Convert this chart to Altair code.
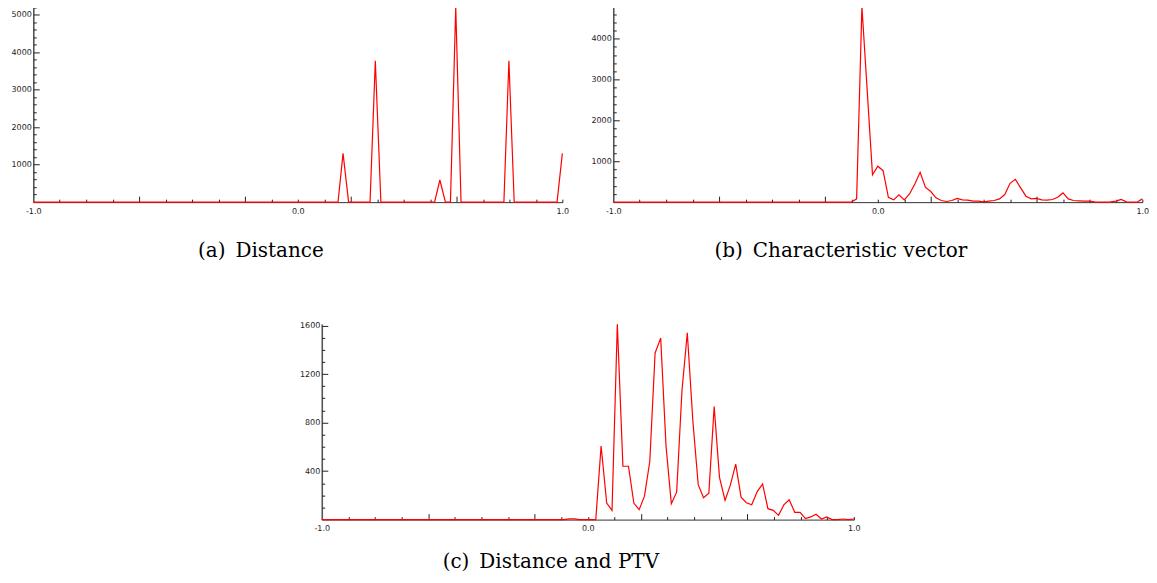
import altair as alt
import pandas as pd

# ---------------- data ----------------
# (a) Distance
X_A = [-1.0, 0.152, 0.171, 0.192, 0.273, 0.293, 0.314, 0.517, 0.537, 0.558,
       0.577, 0.597, 0.617, 0.779, 0.798, 0.818, 0.980, 1.0]
Y_A = [0, 0, 1300, 0, 0, 3770, 0, 0, 590, 0,
       0, 5200, 0, 0, 3770, 0, 0, 1300]

# (b) Characteristic vector
X_B = [-1.0, -0.10, -0.08, -0.06, -0.02, 0.0, 0.02, 0.04, 0.06, 0.08, 0.10,
       0.12, 0.14, 0.16, 0.18, 0.20, 0.22, 0.24, 0.26, 0.28, 0.30,
       0.32, 0.34, 0.36, 0.38, 0.40, 0.42, 0.44, 0.46, 0.48, 0.50,
       0.52, 0.54, 0.56, 0.58, 0.60, 0.62, 0.64, 0.66, 0.68, 0.70,
       0.72, 0.74, 0.76, 0.78, 0.80, 0.82, 0.84, 0.86, 0.88, 0.90,
       0.92, 0.94, 0.96, 0.98, 1.0]
Y_B = [0, 0, 80, 4780, 670, 880, 770, 120, 57, 178, 57,
       200, 445, 730, 365, 260, 105, 40, 16, 40, 90,
       57, 50, 24, 24, 8, 24, 40, 80, 186, 461,
       558, 348, 146, 80, 90, 57, 50, 65, 120, 226,
       80, 40, 32, 24, 24, 8, 0, 0, 8, 24,
       65, 8, 0, 0, 80]

# (c) Distance and PTV
X_C = [-1.0, -0.09, -0.07, -0.05, -0.03, 0.030, 0.050, 0.071, 0.091, 0.111,
       0.132, 0.153, 0.173, 0.193, 0.213, 0.233, 0.253, 0.274, 0.294, 0.314,
       0.334, 0.354, 0.374, 0.395, 0.415, 0.435, 0.455, 0.475, 0.495, 0.516,
       0.536, 0.556, 0.576, 0.596, 0.616, 0.637, 0.657, 0.677, 0.697, 0.717,
       0.737, 0.757, 0.778, 0.798, 0.818, 0.838, 0.858, 0.878, 0.898, 0.918,
       0.939, 0.959, 0.979, 1.0]
Y_C = [0, 0, 6, 6, 0, 0, 607, 136, 76, 1610,
       440, 440, 136, 82, 193, 479, 1374, 1496, 607, 131,
       226, 1064, 1540, 811, 288, 180, 218, 933, 348, 158,
       286, 457, 185, 139, 122, 231, 294, 90, 76, 35,
       122, 163, 60, 60, 8, 22, 44, 5, 22, 0,
       0, 5, 0, 5]

# axis ticks / labels
X_LABEL_VALUES = [-1.0, 0.0, 1.0]
X_LABEL_TEXT = ["-1.0", "0.0", "1.0"]
X_TICKS = [-0.9, -0.8, -0.7, -0.6, -0.5, -0.4, -0.3, -0.2, -0.1, 0.0,
           0.1, 0.2, 0.3, 0.4, 0.5, 0.6, 0.7, 0.8, 0.9, 1.0]
X_MAJOR = [-0.6, -0.2, 0.2, 0.6]

Y_LABELS_A = [1000, 2000, 3000, 4000, 5000]
Y_LABELS_B = [1000, 2000, 3000, 4000]
Y_LABELS_C = [400, 800, 1200, 1600]

CAPTIONS = ["(a)\u2002Distance", "(b)\u2002Characteristic vector",
            "(c)\u2002Distance and PTV"]

LABEL_FONT = "DejaVu Sans"
CAPTION_FONT = "DejaVu Serif"


def x_label_expr():
    parts = []
    for v, t in zip(X_LABEL_VALUES, X_LABEL_TEXT):
        parts.append(f"abs(datum.value - ({v})) < 0.01 ? '{t}' : ")
    return "".join(parts) + "''"


def panel(xs, ys, ymax, ylabels, ystep, ymajor, width, height, caption, cap_offset):
    df = pd.DataFrame({"x": xs, "y": ys})
    xscale = alt.Scale(domain=[-1, 1], nice=False, zero=False)
    yscale = alt.Scale(domain=[0, ymax], nice=False, zero=True)
    yticks = [ystep * i for i in range(1, int(ymax // ystep) + 1)]
    x_major_test = " || ".join(f"abs(datum.value - ({v})) < 0.01" for v in X_MAJOR)
    y_major_test = f"datum.value % {ymajor} == 0"

    line = alt.Chart(df).mark_line(color="#ff0000", strokeWidth=1.2).encode(
        x=alt.X("x:Q", scale=xscale, axis=alt.Axis(
            values=X_LABEL_VALUES, labelExpr=x_label_expr(), ticks=False,
            tickSize=0, grid=False, domain=True, domainColor="#333333",
            domainWidth=1, labelFont=LABEL_FONT, labelFontSize=8,
            labelColor="#222222", labelPadding=5, title=None, minExtent=0,
            labelFlush=False, labelOverlap=False)),
        y=alt.Y("y:Q", scale=yscale, axis=alt.Axis(
            values=ylabels, format="d", ticks=False, tickSize=0, grid=False,
            domain=True, domainColor="#555555", domainWidth=1.6,
            labelFont=LABEL_FONT, labelFontSize=8, labelColor="#222222",
            labelPadding=2, title=None, minExtent=0, labelOverlap=False)),
    )
    ticks = alt.Chart(df).mark_line(strokeOpacity=0).encode(
        x=alt.X("x:Q", scale=xscale, axis=alt.Axis(
            orient="top", offset=-height, values=X_TICKS, labels=False,
            domain=False, grid=False, tickColor="#222222", tickWidth=1,
            tickSize={"condition": {"test": x_major_test, "value": 6}, "value": 3},
            title=None, minExtent=0)),
        y=alt.Y("y:Q", scale=yscale, axis=alt.Axis(
            orient="right", offset=-width, values=yticks, labels=False,
            domain=False, grid=False, tickColor="#222222", tickWidth=1,
            tickSize={"condition": {"test": y_major_test, "value": 6}, "value": 3},
            title=None, minExtent=0)),
    )
    return alt.layer(line, ticks).resolve_axis(
        x="independent", y="independent"
    ).properties(
        width=width, height=height,
        title=alt.TitleParams(caption, orient="bottom", anchor="middle",
                              frame="group", dx=-37, offset=cap_offset,
                              font=CAPTION_FONT, fontSize=20,
                              fontWeight="normal", color="#000000"),
    )


a = panel(X_A, Y_A, 5240, Y_LABELS_A, 200, 1000, 530, 197, CAPTIONS[0], 26)
b = panel(X_B, Y_B, 4810, Y_LABELS_B, 200, 1000, 530, 197, CAPTIONS[1], 26)
c = panel(X_C, Y_C, 1613, Y_LABELS_C, 100, 400, 533, 196, CAPTIONS[2], 19)

top = alt.hconcat(a, b, spacing=21)
chart = alt.vconcat(top, c, spacing=60, center=True).properties(
    padding={"left": 2, "top": -5, "right": 0, "bottom": 0},
    background="white",
).configure_view(stroke=None)

chart.save("out.html", embed_options={"renderer": "svg", "actions": False})
